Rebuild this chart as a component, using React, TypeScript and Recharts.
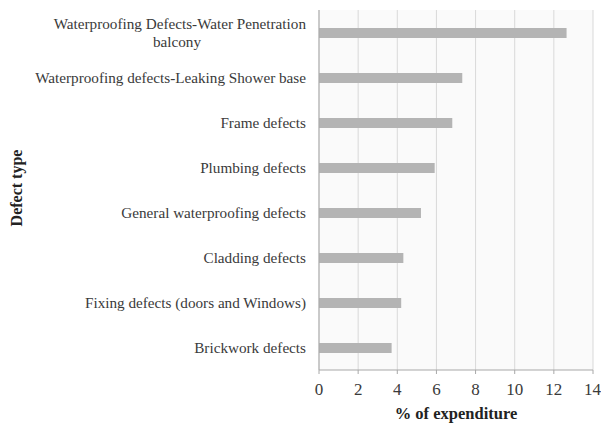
import React from "react";
import { BarChart, Bar, XAxis, YAxis, CartesianGrid } from "recharts";

const categories = [
  "Waterproofing Defects-Water Penetration|balcony",
  "Waterproofing defects-Leaking Shower base",
  "Frame defects",
  "Plumbing defects",
  "General waterproofing defects",
  "Cladding defects",
  "Fixing defects (doors and Windows)",
  "Brickwork defects",
];
const expenditure = [12.65, 7.32, 6.81, 5.91, 5.21, 4.31, 4.2, 3.71];
const xTicks = [0, 2, 4, 6, 8, 10, 12, 14];

const data = categories.map((c, i) => ({ name: c, value: expenditure[i] }));

const FONT = '"Liberation Serif", "Times New Roman", serif';
const LABEL_SIZE = 15.2;

const CategoryTick = (props: any) => {
  const { x, y, payload } = props;
  const lines = String(payload.value).split("|");
  const rx = x - 5;
  if (lines.length === 1) {
    return (
      <text x={rx} y={y} dy="0.35em" textAnchor="end" fontFamily={FONT} fontSize={LABEL_SIZE} fill="#3a3a3a">
        {lines[0]}
      </text>
    );
  }
  return (
    <g>
      <text x={rx} y={y - 9} dy="0.35em" textAnchor="end" fontFamily={FONT} fontSize={LABEL_SIZE} fill="#3a3a3a">
        {lines[0]}
      </text>
      <text x={rx - 129} y={y + 9} dy="0.35em" textAnchor="middle" fontFamily={FONT} fontSize={LABEL_SIZE} fill="#3a3a3a">
        {lines[1]}
      </text>
    </g>
  );
};

const YTitle = () => (
  <text
    x={18}
    y={188}
    transform="rotate(-90 18 188)"
    textAnchor="middle"
    dominantBaseline="middle"
    fontFamily={FONT}
    fontSize={16}
    fontWeight="bold"
    fill="#222"
  >
    Defect type
  </text>
);

export default function App() {
  return (
    <div style={{ position: "absolute", left: 0, top: 0, background: "#fff" }}>
      <BarChart
        width={601}
        height={423}
        data={data}
        layout="vertical"
        margin={{ top: 10, right: 8, bottom: 0, left: 0 }}
        barCategoryGap={0}
      >
        <CartesianGrid horizontal={false} stroke="#d9d9d9" fill="#fafafa" />
        <XAxis
          type="number"
          domain={[0, 14]}
          ticks={xTicks}
          height={53}
          tickSize={4}
          tickMargin={9}
          stroke="#a8a8a8"
          tick={{ fontFamily: FONT, fontSize: 17, fill: "#3a3a3a" }}
          label={{
            value: "% of expenditure",
            position: "insideBottom",
            offset: 4,
            style: { fontFamily: FONT, fontSize: 16.5, fontWeight: "bold", fill: "#222" },
          }}
        />
        <YAxis
          type="category"
          dataKey="name"
          width={319}
          tickLine={false}
          stroke="#a8a8a8"
          interval={0}
          tick={<CategoryTick />}
          label={<YTitle />}
        />
        <Bar dataKey="value" fill="#b4b4b4" barSize={10} isAnimationActive={false} />
      </BarChart>
    </div>
  );
}
